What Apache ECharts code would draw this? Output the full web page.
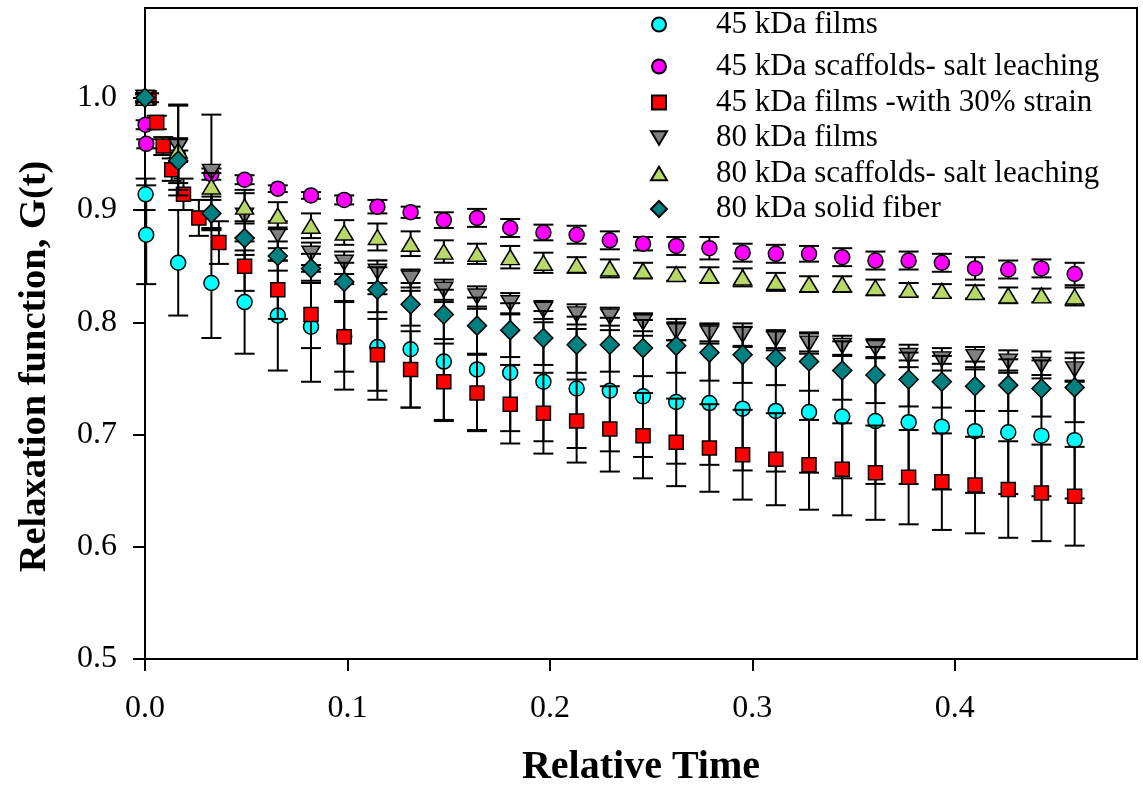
<!DOCTYPE html>
<html>
<head>
<meta charset="utf-8">
<script src="https://cdn.jsdelivr.net/npm/echarts@6/dist/echarts.min.js"></script>
<style>
html,body{margin:0;padding:0;background:#fff;overflow:hidden;width:100%;height:100%;}
#chart{width:1143px;height:793px;display:block;}
</style>
</head>
<body>
<div id="chart"></div>
<script>
// ---------- data ----------
const seriesNames = [
  '45 kDa films',
  '45 kDa scaffolds- salt leaching',
  '45 kDa films -with 30% strain',
  '80 kDa films',
  '80 kDa scaffolds- salt leaching',
  '80 kDa solid fiber'
];
// common relative-time sampling (after the first instant)
const tCommon = [0.0164, 0.0328, 0.0492, 0.0656, 0.0820, 0.0984, 0.1148, 0.1312, 0.1476, 0.1640,
  0.1804, 0.1968, 0.2132, 0.2296, 0.2460, 0.2624, 0.2788, 0.2952, 0.3116, 0.3280,
  0.3444, 0.3608, 0.3772, 0.3936, 0.4100, 0.4264, 0.4428, 0.4592];
const tEarly45 = [0, 0.0003, 0.0006];
const tEarlyStrain = [0.002, 0.0058, 0.009, 0.0132, 0.019, 0.0266, 0.0365];
const tLateStrain = [0.0492, 0.0656, 0.0820, 0.0984, 0.1148, 0.1312, 0.1476, 0.1640,
  0.1804, 0.1968, 0.2132, 0.2296, 0.2460, 0.2624, 0.2788, 0.2952, 0.3116, 0.3280,
  0.3444, 0.3608, 0.3772, 0.3936, 0.4100, 0.4264, 0.4428, 0.4592];
const tEarly80 = [0];

const g45films = [1.0, 0.914, 0.878, 0.853, 0.835, 0.818, 0.806, 0.796, 0.787, 0.778, 0.776, 0.765,
  0.758, 0.755, 0.747, 0.741, 0.739, 0.734, 0.729, 0.728, 0.723, 0.721, 0.720, 0.716, 0.712, 0.711,
  0.707, 0.703, 0.702, 0.699, 0.695];
const e45films = [0.004, 0.014, 0.044, 0.047, 0.049, 0.046, 0.049, 0.049, 0.047, 0.047, 0.052, 0.053,
  0.054, 0.052, 0.053, 0.053, 0.054, 0.054, 0.055, 0.055, 0.055, 0.054, 0.054, 0.055, 0.056, 0.055,
  0.056, 0.055, 0.055, 0.054, 0.052];

const g45scaf = [1.0, 0.976, 0.959, 0.948, 0.932, 0.927, 0.919, 0.913, 0.909, 0.903, 0.898, 0.891,
  0.893, 0.884, 0.880, 0.878, 0.873, 0.870, 0.868, 0.866, 0.862, 0.861, 0.861, 0.858, 0.855, 0.855,
  0.853, 0.848, 0.847, 0.848, 0.843];
const e45scaf = [0.003, 0.004, 0.004, 0.005, 0.005, 0.004, 0.003, 0.003, 0.004, 0.006, 0.005, 0.007,
  0.008, 0.008, 0.007, 0.008, 0.008, 0.006, 0.008, 0.010, 0.008, 0.008, 0.007, 0.008, 0.008, 0.008,
  0.008, 0.010, 0.008, 0.008, 0.010];

const g45strain = [1.0, 0.978, 0.957, 0.936, 0.914, 0.893, 0.871, 0.850, 0.829, 0.807, 0.787, 0.771,
  0.758, 0.747, 0.737, 0.727, 0.719, 0.712, 0.705, 0.699, 0.693, 0.688, 0.682, 0.678, 0.673, 0.669,
  0.666, 0.662, 0.658, 0.655, 0.651, 0.648, 0.645];
const e45strain = [0.004, 0.006, 0.008, 0.010, 0.014, 0.016, 0.019, 0.022, 0.026, 0.030, 0.031, 0.032,
  0.034, 0.034, 0.034, 0.035, 0.036, 0.037, 0.038, 0.038, 0.039, 0.039, 0.040, 0.041, 0.040, 0.041,
  0.042, 0.042, 0.043, 0.043, 0.043, 0.043, 0.044];

const g80films = [1.0, 0.956, 0.934, 0.895, 0.878, 0.861, 0.853, 0.845, 0.839, 0.829, 0.823, 0.817,
  0.811, 0.807, 0.805, 0.800, 0.792, 0.790, 0.789, 0.785, 0.781, 0.779, 0.777, 0.770, 0.767, 0.769,
  0.765, 0.762, 0.758];
const e80films = [0.004, 0.038, 0.051, 0.020, 0.012, 0.010, 0.010, 0.010, 0.008, 0.009, 0.009, 0.009,
  0.008, 0.009, 0.008, 0.008, 0.008, 0.009, 0.010, 0.008, 0.009, 0.009, 0.008, 0.010, 0.010, 0.009,
  0.010, 0.012, 0.010];

const g80scaf = [1.0, 0.953, 0.921, 0.903, 0.895, 0.886, 0.880, 0.876, 0.870, 0.863, 0.861, 0.858,
  0.853, 0.851, 0.848, 0.846, 0.843, 0.842, 0.840, 0.836, 0.834, 0.834, 0.831, 0.829, 0.828, 0.827,
  0.824, 0.824, 0.823];
const e80scaf = [0.004, 0.040, 0.012, 0.015, 0.012, 0.011, 0.011, 0.012, 0.011, 0.010, 0.009, 0.010,
  0.009, 0.007, 0.008, 0.007, 0.006, 0.007, 0.008, 0.008, 0.007, 0.007, 0.007, 0.006, 0.006, 0.006,
  0.007, 0.006, 0.008];

const g80fiber = [1.0, 0.944, 0.897, 0.875, 0.859, 0.848, 0.836, 0.829, 0.816, 0.807, 0.797, 0.793,
  0.786, 0.780, 0.780, 0.777, 0.779, 0.773, 0.771, 0.768, 0.765, 0.757, 0.753, 0.749, 0.747, 0.743,
  0.744, 0.741, 0.742];
const e80fiber = [0.004, 0.020, 0.015, 0.015, 0.013, 0.013, 0.017, 0.020, 0.019, 0.022, 0.025, 0.024,
  0.024, 0.025, 0.024, 0.025, 0.024, 0.025, 0.025, 0.024, 0.026, 0.026, 0.025, 0.024, 0.023, 0.022,
  0.023, 0.025, 0.031];

const xTicks = [0, 0.1, 0.2, 0.3, 0.4];
const yTicks = [0.5, 0.6, 0.7, 0.8, 0.9, 1.0];

// ---------- build ----------
const FONT = "'Liberation Serif', 'Times New Roman', serif";
const downTri = 'path://M0,0 L20,0 L10,17 Z';
const upTri = 'path://M10,0 L20,17 L0,17 Z';
const specs = [
  {x: tEarly45.concat(tCommon), y: g45films, e: e45films, symbol: 'circle', size: 15, color: '#00FFFF', lsize: [14,14]},
  {x: tEarly45.concat(tCommon), y: g45scaf, e: e45scaf, symbol: 'circle', size: 15, color: '#FF00FF', lsize: [14,14]},
  {x: tEarlyStrain.concat(tLateStrain), y: g45strain, e: e45strain, symbol: 'rect', size: 14, color: '#FF0000', lsize: [14,14]},
  {x: tEarly80.concat(tCommon), y: g80films, e: e80films, symbol: downTri, size: [18,15], color: '#808080', lsize: [16,14]},
  {x: tEarly80.concat(tCommon), y: g80scaf, e: e80scaf, symbol: upTri, size: [18,15], color: '#B8D968', lsize: [16,14]},
  {x: tEarly80.concat(tCommon), y: g80fiber, e: e80fiber, symbol: 'diamond', size: [19,19], color: '#008080', lsize: [16,16]}
];

function errRender(params, api) {
  const x = api.value(0), lo = api.value(1), hi = api.value(2);
  const p1 = api.coord([x, hi]);
  const p2 = api.coord([x, lo]);
  const hw = 10;
  const st = {stroke: '#000', lineWidth: 2};
  return {
    type: 'group',
    children: [
      {type: 'line', shape: {x1: p1[0], y1: p1[1], x2: p2[0], y2: p2[1]}, style: st},
      {type: 'line', shape: {x1: p1[0] - hw, y1: p1[1], x2: p1[0] + hw, y2: p1[1]}, style: st},
      {type: 'line', shape: {x1: p2[0] - hw, y1: p2[1], x2: p2[0] + hw, y2: p2[1]}, style: st}
    ]
  };
}

const series = [];
specs.forEach((s, i) => {
  const errData = s.x.map((xv, j) => [xv, s.y[j] - s.e[j], s.y[j] + s.e[j]]);
  const ptData = s.x.map((xv, j) => [xv, s.y[j]]);
  series.push({
    name: 'err' + i,
    type: 'custom',
    renderItem: errRender,
    data: errData,
    encode: {x: 0, y: [1, 2]},
    z: 2 + i * 2,
    silent: true
  });
  series.push({
    name: seriesNames[i],
    type: 'scatter',
    data: ptData,
    symbol: s.symbol,
    symbolSize: s.size,
    z: 3 + i * 2,
    itemStyle: {color: s.color, borderColor: '#000', borderWidth: 1.5, opacity: 1},
    emphasis: {disabled: true}
  });
});

const legendRows = [24, 66, 102, 137.5, 173, 208.5];
const legends = seriesNames.map((n, i) => ({
  data: [n],
  orient: 'vertical',
  left: 658 - specs[i].lsize[0] / 2,
  top: legendRows[i] - 15,
  padding: 0,
  itemWidth: specs[i].lsize[0],
  itemHeight: specs[i].lsize[1],
  selectedMode: false,
  textStyle: {fontFamily: FONT, fontSize: 31, color: '#000', lineHeight: 30,
    padding: [0, 0, 0, 715 - (658 + specs[i].lsize[0] / 2) - 5]}
}));

const chart = echarts.init(document.getElementById('chart'));
chart.setOption({
  animation: false,
  backgroundColor: '#fff',
  legend: legends,
  grid: {left: 145, width: 992, top: 8, height: 658, show: true, borderColor: '#000', borderWidth: 2},
  xAxis: {
    type: 'value', min: 0, max: 0.49,
    name: 'Relative Time', nameLocation: 'middle', nameGap: 89,
    nameTextStyle: {fontFamily: FONT, fontSize: 40, fontWeight: 'bold', color: '#000'},
    axisLine: {lineStyle: {color: '#000', width: 2}},
    axisTick: {customValues: xTicks, length: 12, lineStyle: {color: '#000', width: 2}},
    axisLabel: {customValues: xTicks, margin: 34, fontFamily: FONT, fontSize: 32, color: '#000',
      formatter: v => v.toFixed(1)},
    splitLine: {show: false}
  },
  yAxis: {
    type: 'value', min: 0.5, max: 1.08,
    name: 'Relaxation function, G(t)', nameLocation: 'middle', nameGap: 90,
    nameTextStyle: {fontFamily: FONT, fontSize: 38.5, fontWeight: 'bold', color: '#000',
      padding: [0, 66, 0, 0]},
    axisLine: {lineStyle: {color: '#000', width: 2}},
    axisTick: {customValues: yTicks, length: 12, lineStyle: {color: '#000', width: 2}},
    axisLabel: {customValues: yTicks, margin: 28, fontFamily: FONT, fontSize: 32, color: '#000',
      formatter: v => v.toFixed(1)},
    splitLine: {show: false}
  },
  series: series
});
</script>
</body>
</html>
